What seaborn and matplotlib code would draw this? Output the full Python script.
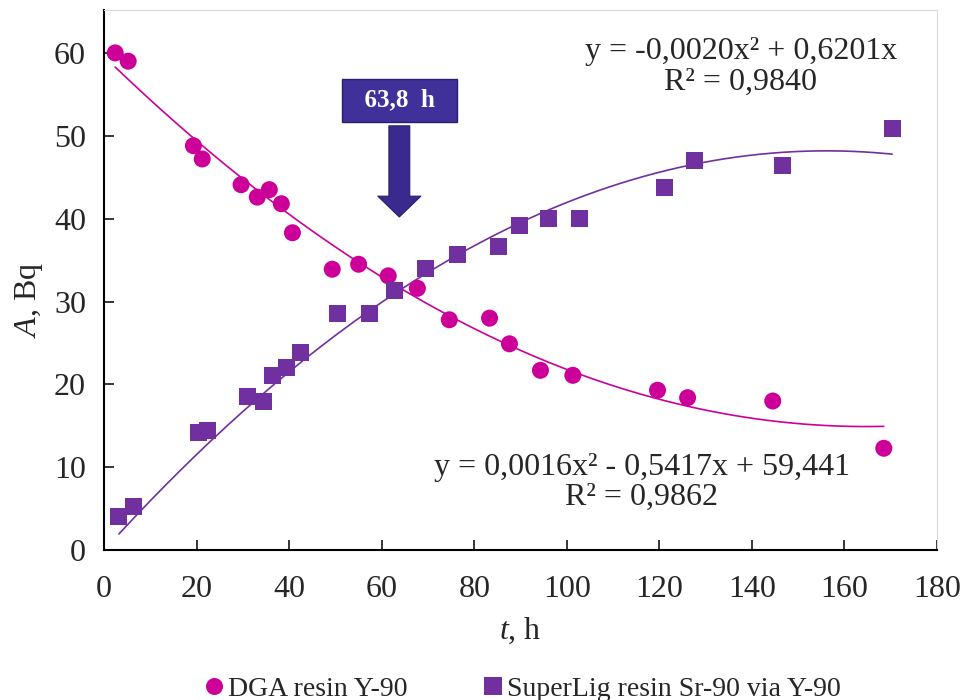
import numpy as np
import pandas as pd
import seaborn as sns
import matplotlib.pyplot as plt

# data
dga_t = [2.4, 5.2, 19.3, 21.2, 29.6, 33.1, 35.7, 38.3, 40.7, 49.3, 55.0,
         61.4, 67.7, 74.6, 83.3, 87.6, 94.3, 101.3, 119.6, 126.1, 144.5, 168.5]
dga_a = [60.0, 59.0, 48.8, 47.2, 44.1, 42.6, 43.5, 41.8, 38.3, 33.9, 34.5,
         33.1, 31.6, 27.8, 28.0, 24.9, 21.7, 21.1, 19.3, 18.4, 18.0, 12.3]

sl_t = [3.2, 6.3, 20.3, 22.3, 30.9, 34.4, 36.3, 39.4, 42.4, 50.4, 57.3,
        62.7, 69.5, 76.4, 85.2, 89.8, 96.1, 102.8, 121.2, 127.6, 146.7, 170.3]
sl_a = [4.1, 5.3, 14.2, 14.5, 18.5, 18.0, 21.1, 22.0, 23.8, 28.5, 28.6,
        31.3, 34.0, 35.7, 36.6, 39.2, 40.0, 40.0, 43.8, 47.0, 46.4, 50.9]

series_names = ["DGA resin Y-90", "SuperLig resin Sr-90 via Y-90"]
colors = ["#CC0099", "#7030A0"]
eq_dga = "y = 0,0016x² - 0,5417x + 59,441\nR² = 0,9862"
eq_sl = "y = -0,0020x² + 0,6201x\nR² = 0,9840"
crossing_label = "  63,8  h  "
crossing_t = 63.8

df = pd.DataFrame({
    "t": dga_t + sl_t,
    "A": dga_a + sl_a,
    "series": [series_names[0]] * len(dga_t) + [series_names[1]] * len(sl_t),
})

# trend lines: quadratic for DGA, quadratic through origin for SuperLig
p_dga = np.polyfit(dga_t, dga_a, 2)
x_dga = np.linspace(min(dga_t), max(dga_t), 200)
y_dga = np.polyval(p_dga, x_dga)

xs = np.array(sl_t)
coef, *_ = np.linalg.lstsq(np.column_stack([xs ** 2, xs]), np.array(sl_a), rcond=None)
x_sl = np.linspace(min(sl_t), max(sl_t), 200)
y_sl = coef[0] * x_sl ** 2 + coef[1] * x_sl

sns.set_style("ticks")
plt.rcParams["font.family"] = ["Liberation Serif", "DejaVu Serif"]
plt.rcParams["mathtext.fontset"] = "custom"
plt.rcParams["mathtext.it"] = "Liberation Serif:italic"
plt.rcParams["mathtext.rm"] = "Liberation Serif"

fig = plt.figure(figsize=(9.64, 7), dpi=100)
ax = fig.add_axes([0.108, 0.214, 0.864, 0.772])

sns.lineplot(x=x_dga, y=y_dga, color=colors[0], lw=1.2, ax=ax)
sns.lineplot(x=x_sl, y=y_sl, color=colors[1], lw=1.2, ax=ax)
sns.scatterplot(data=df, x="t", y="A", hue="series", style="series",
                palette=colors, markers=["o", "s"], s=150, linewidth=0,
                ax=ax, zorder=3)

ax.set_xlim(0, 180)
ax.set_ylim(0, 65.2)
ax.set_xticks(range(0, 181, 20))
ax.set_yticks(range(0, 61, 10))
ax.tick_params(direction="in", length=7, width=1.3, labelsize=23)
ax.tick_params(axis="y", pad=13)
ax.tick_params(axis="x", pad=18)
for s in ["left", "bottom"]:
    ax.spines[s].set_linewidth(1.5)
    ax.spines[s].set_color("black")
for s in ["top", "right"]:
    ax.spines[s].set_linewidth(0.8)
    ax.spines[s].set_color("#D9D9D9")

ax.set_xlabel("$\\it{t}$, h", fontsize=23, labelpad=8)
ax.set_ylabel("$\\it{A}$, Bq", fontsize=23, labelpad=2)
ax.yaxis.set_label_coords(-0.071, 0.463)

ax.text(137.6, 58.3, eq_sl, fontsize=23, ha="center", va="center",
        multialignment="center", linespacing=1.05)
ax.text(116.2, 8.2, eq_dga, fontsize=23, ha="center", va="center",
        multialignment="center", linespacing=1.05)

# callout arrow with label
ax.annotate("", xy=(crossing_t, 40.2), xytext=(crossing_t, 51.2),
            arrowprops=dict(width=15, headwidth=31, headlength=15,
                            facecolor="#3A2A8E", edgecolor="#2A1D6E", lw=0.8))
ax.text(crossing_t, 54.3, crossing_label, fontsize=18, fontweight="bold",
        color="white", ha="center", va="center",
        bbox=dict(boxstyle="square,pad=0.4", facecolor="#40309A",
                  edgecolor="#2A1D6E", lw=1))

handles, labels = ax.get_legend_handles_labels()
ax.legend_.remove()
fig.legend(handles, labels, loc="center", bbox_to_anchor=(0.54, 0.016),
           ncol=2, frameon=False, fontsize=20, handletextpad=0.0,
           columnspacing=2.6, handlelength=1.0, markerscale=1.0)

fig.savefig("out.png", dpi=100)
